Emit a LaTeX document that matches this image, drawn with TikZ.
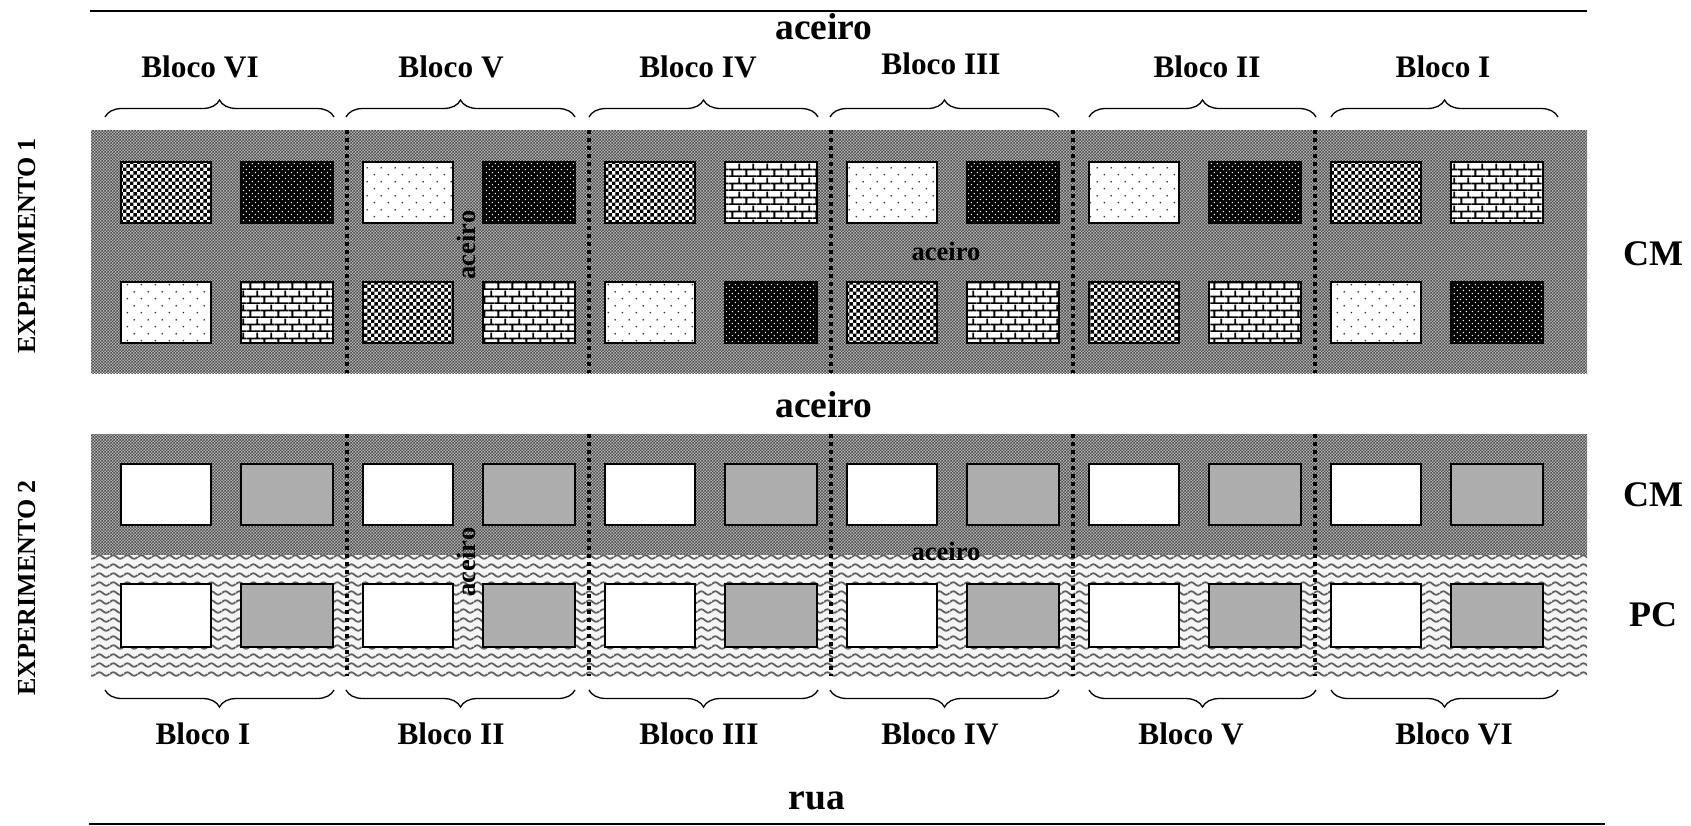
\documentclass[tikz,border=0pt]{standalone}
\usepackage{fontspec}
\setmainfont{Liberation Serif}
\usetikzlibrary{patterns,decorations.pathreplacing}

\newdimen\un
\un=0.74pt
\newdimen\ug
\ug=0.86pt
\pgfdeclarepatternformonly{fundo}{\pgfpoint{0\un}{0\un}}{\pgfpoint{4\un}{4\un}}{\pgfpoint{4\un}{4\un}}{
  \pgfpathrectangle{\pgfpoint{0\un}{0\un}}{\pgfpoint{2\un}{2\un}}
  \pgfpathrectangle{\pgfpoint{2\un}{2\un}}{\pgfpoint{2\un}{2\un}}
  \pgfusepath{fill}}
\pgfdeclarepatternformonly{xadrez}{\pgfpoint{0\ug}{0\ug}}{\pgfpoint{8\ug}{8\ug}}{\pgfpoint{8\ug}{8\ug}}{
  \pgfpathrectangle{\pgfpoint{0\ug}{0\ug}}{\pgfpoint{4\ug}{4\ug}}
  \pgfpathrectangle{\pgfpoint{4\ug}{4\ug}}{\pgfpoint{4\ug}{4\ug}}
  \pgfusepath{fill}}
\pgfdeclarepatternformonly{furos}{\pgfpoint{0\un}{0\un}}{\pgfpoint{8\un}{8\un}}{\pgfpoint{8\un}{8\un}}{
  \pgfpathcircle{\pgfpoint{2\un}{2\un}}{1\un}
  \pgfpathcircle{\pgfpoint{6\un}{6\un}}{1\un}
  \pgfusepath{fill}}
\pgfdeclarepatternformonly{pontos}{\pgfpoint{0\ug}{0\ug}}{\pgfpoint{16\ug}{16\ug}}{\pgfpoint{16\ug}{16\ug}}{
  \pgfpathcircle{\pgfpoint{4\ug}{4\ug}}{1.1\ug}
  \pgfpathcircle{\pgfpoint{12\ug}{12\ug}}{1.1\ug}
  \pgfusepath{fill}}
\pgfdeclarepatternformonly{tijolo}{\pgfpoint{0\ug}{0\ug}}{\pgfpoint{16\ug}{16.4\ug}}{\pgfpoint{16\ug}{16.4\ug}}{
  \pgfsetlinewidth{2.2\ug}
  \pgfpathmoveto{\pgfpoint{0\ug}{1\ug}}\pgfpathlineto{\pgfpoint{16\ug}{1\ug}}
  \pgfpathmoveto{\pgfpoint{0\ug}{9.2\ug}}\pgfpathlineto{\pgfpoint{16\ug}{9.2\ug}}
  \pgfpathmoveto{\pgfpoint{4\ug}{1\ug}}\pgfpathlineto{\pgfpoint{4\ug}{9.2\ug}}
  \pgfpathmoveto{\pgfpoint{12\ug}{9.2\ug}}\pgfpathlineto{\pgfpoint{12\ug}{16.4\ug}}
  \pgfusepath{stroke}}
\pgfdeclarepatternformonly{ondas}{\pgfpoint{0\ug}{0\ug}}{\pgfpoint{16\ug}{10.7\ug}}{\pgfpoint{16\ug}{10.7\ug}}{
  \pgfsetlinewidth{2.2\ug}
  \pgfpathmoveto{\pgfpoint{0\ug}{5\ug}}
  \pgfpathcurveto{\pgfpoint{3\ug}{8\ug}}{\pgfpoint{5\ug}{8\ug}}{\pgfpoint{8\ug}{5\ug}}
  \pgfpathcurveto{\pgfpoint{11\ug}{2\ug}}{\pgfpoint{13\ug}{2\ug}}{\pgfpoint{16\ug}{5\ug}}
  \pgfusepath{stroke}}

\tikzset{
  faixacm/.style={preaction={fill=black!28}, pattern=fundo, pattern color=black!70},
  faixapc/.style={preaction={fill=black!4}, pattern=ondas, pattern color=black!62},
  parcela/.style={draw, line width=1.8pt, minimum width=90.5pt, minimum height=60.5pt, inner sep=0pt, outer sep=0pt, xshift=-0.5pt},
  larga/.style={parcela, minimum width=92.5pt},
  pxadrez/.style={preaction={fill=white}, pattern=xadrez},
  ppreto/.style={preaction={fill=black}, pattern=furos, pattern color=white},
  pponto/.style={preaction={fill=white}, pattern=pontos, pattern color=black!80},
  ptijolo/.style={preaction={fill=white}, pattern=tijolo},
  pbranco/.style={fill=white},
  pcinza/.style={fill=black!32},
  bloco/.style={inner sep=0pt, font=\fontsize{31.3}{34}\selectfont\bfseries},
  grande/.style={inner sep=0pt, font=\fontsize{37.5}{40}\selectfont\bfseries},
  medio/.style={inner sep=0pt, font=\fontsize{36}{40}\selectfont\bfseries},
  pequeno/.style={inner sep=0pt, font=\fontsize{26.5}{30}\selectfont\bfseries},
  experimento/.style={inner sep=0pt, rotate=90, font=\fontsize{26}{30}\selectfont\bfseries},
  chave/.style={line width=1.3pt, decorate, decoration={brace, amplitude=17pt}},
  chaveb/.style={line width=1.3pt, decorate, decoration={brace, amplitude=17pt, mirror}},
  divisa/.style={line width=4pt, dash pattern=on 4pt off 4pt}
}

\begin{document}
\begin{tikzpicture}[x=1pt, y=-1pt]
\useasboundingbox (0,0) rectangle (1691,825);

% faixas
\fill[faixacm] (91,130) rectangle (1587,373);
\fill[faixacm] (91,434) rectangle (1587,555);
\fill[faixapc] (91,555) rectangle (1587,676);

% experimento 1
\node[parcela, pxadrez] (a11) at (166.5,192.5) {};
\node[larga, ppreto] (a12) at (287.5,192.5) {};
\node[parcela, pponto] (a21) at (408.5,192.5) {};
\node[larga, ppreto] (a22) at (529.5,192.5) {};
\node[parcela, pxadrez] (a31) at (650.5,192.5) {};
\node[larga, ptijolo] (a32) at (771.5,192.5) {};
\node[parcela, pponto] (a41) at (892.5,192.5) {};
\node[larga, ppreto] (a42) at (1013.5,192.5) {};
\node[parcela, pponto] (a51) at (1134.5,192.5) {};
\node[larga, ppreto] (a52) at (1255.5,192.5) {};
\node[parcela, pxadrez] (a61) at (1376.5,192.5) {};
\node[larga, ptijolo] (a62) at (1497.5,192.5) {};
\node[parcela, pponto] (b11) at (166.5,312.5) {};
\node[larga, ptijolo] (b12) at (287.5,312.5) {};
\node[parcela, pxadrez] (b21) at (408.5,312.5) {};
\node[larga, ptijolo] (b22) at (529.5,312.5) {};
\node[parcela, pponto] (b31) at (650.5,312.5) {};
\node[larga, ppreto] (b32) at (771.5,312.5) {};
\node[parcela, pxadrez] (b41) at (892.5,312.5) {};
\node[larga, ptijolo] (b42) at (1013.5,312.5) {};
\node[parcela, pxadrez] (b51) at (1134.5,312.5) {};
\node[larga, ptijolo] (b52) at (1255.5,312.5) {};
\node[parcela, pponto] (b61) at (1376.5,312.5) {};
\node[larga, ppreto] (b62) at (1497.5,312.5) {};

% experimento 2
\node[parcela, pbranco] (c11) at (166.5,494.5) {};
\node[larga, pcinza] (c12) at (287.5,494.5) {};
\node[parcela, pbranco] (c21) at (408.5,494.5) {};
\node[larga, pcinza] (c22) at (529.5,494.5) {};
\node[parcela, pbranco] (c31) at (650.5,494.5) {};
\node[larga, pcinza] (c32) at (771.5,494.5) {};
\node[parcela, pbranco] (c41) at (892.5,494.5) {};
\node[larga, pcinza] (c42) at (1013.5,494.5) {};
\node[parcela, pbranco] (c51) at (1134.5,494.5) {};
\node[larga, pcinza] (c52) at (1255.5,494.5) {};
\node[parcela, pbranco] (c61) at (1376.5,494.5) {};
\node[larga, pcinza] (c62) at (1497.5,494.5) {};
\node[parcela, pbranco, minimum height=62.5pt] (d11) at (166.5,615.5) {};
\node[larga, pcinza, minimum height=62.5pt] (d12) at (287.5,615.5) {};
\node[parcela, pbranco, minimum height=62.5pt] (d21) at (408.5,615.5) {};
\node[larga, pcinza, minimum height=62.5pt] (d22) at (529.5,615.5) {};
\node[parcela, pbranco, minimum height=62.5pt] (d31) at (650.5,615.5) {};
\node[larga, pcinza, minimum height=62.5pt] (d32) at (771.5,615.5) {};
\node[parcela, pbranco, minimum height=62.5pt] (d41) at (892.5,615.5) {};
\node[larga, pcinza, minimum height=62.5pt] (d42) at (1013.5,615.5) {};
\node[parcela, pbranco, minimum height=62.5pt] (d51) at (1134.5,615.5) {};
\node[larga, pcinza, minimum height=62.5pt] (d52) at (1255.5,615.5) {};
\node[parcela, pbranco, minimum height=62.5pt] (d61) at (1376.5,615.5) {};
\node[larga, pcinza, minimum height=62.5pt] (d62) at (1497.5,615.5) {};

% linhas de cima e de baixo
\coordinate (topoa) at (90,11);
\coordinate (topob) at (1587,11);
\coordinate (ruaa) at (89,824);
\coordinate (ruab) at (1605,824);
\draw[line width=1.5pt] (topoa) -- (topob);
\draw[line width=1.5pt] (ruaa) -- (ruab);

% divisas entre blocos
\coordinate (s1a) at (347,130); \coordinate (s1b) at (347,373);
\coordinate (s2a) at (589,130); \coordinate (s2b) at (589,373);
\coordinate (s3a) at (831,130); \coordinate (s3b) at (831,373);
\coordinate (s4a) at (1073,130); \coordinate (s4b) at (1073,373);
\coordinate (s5a) at (1315,130); \coordinate (s5b) at (1315,373);
\coordinate (t1a) at (347,434); \coordinate (t1b) at (347,676);
\coordinate (t2a) at (589,434); \coordinate (t2b) at (589,676);
\coordinate (t3a) at (831,434); \coordinate (t3b) at (831,676);
\coordinate (t4a) at (1073,434); \coordinate (t4b) at (1073,676);
\coordinate (t5a) at (1315,434); \coordinate (t5b) at (1315,676);
\draw[divisa] (s1a) -- (s1b);
\draw[divisa] (s2a) -- (s2b);
\draw[divisa] (s3a) -- (s3b);
\draw[divisa] (s4a) -- (s4b);
\draw[divisa] (s5a) -- (s5b);
\draw[divisa] (t1a) -- (t1b);
\draw[divisa] (t2a) -- (t2b);
\draw[divisa] (t3a) -- (t3b);
\draw[divisa] (t4a) -- (t4b);
\draw[divisa] (t5a) -- (t5b);

% chaves
\coordinate (u1a) at (105,117); \coordinate (u1b) at (334,117);
\coordinate (u2a) at (346,117); \coordinate (u2b) at (575,117);
\coordinate (u3a) at (589,117); \coordinate (u3b) at (818,117);
\coordinate (u4a) at (830,117); \coordinate (u4b) at (1059,117);
\coordinate (u5a) at (1089,117); \coordinate (u5b) at (1316,117);
\coordinate (u6a) at (1331,117); \coordinate (u6b) at (1558,117);
\draw[chave] (u1a) -- (u1b);
\draw[chave] (u2a) -- (u2b);
\draw[chave] (u3a) -- (u3b);
\draw[chave] (u4a) -- (u4b);
\draw[chave] (u5a) -- (u5b);
\draw[chave] (u6a) -- (u6b);
\coordinate (v1a) at (105,690); \coordinate (v1b) at (334,690);
\coordinate (v2a) at (346,690); \coordinate (v2b) at (575,690);
\coordinate (v3a) at (589,690); \coordinate (v3b) at (818,690);
\coordinate (v4a) at (830,690); \coordinate (v4b) at (1059,690);
\coordinate (v5a) at (1089,690); \coordinate (v5b) at (1316,690);
\coordinate (v6a) at (1331,690); \coordinate (v6b) at (1558,690);
\draw[chaveb] (v1a) -- (v1b);
\draw[chaveb] (v2a) -- (v2b);
\draw[chaveb] (v3a) -- (v3b);
\draw[chaveb] (v4a) -- (v4b);
\draw[chaveb] (v5a) -- (v5b);
\draw[chaveb] (v6a) -- (v6b);

% textos
\node[grande] (aceirotopo) at (824,27) {aceiro};
\node[grande] (aceiromeio) at (824,405) {aceiro};
\node[grande] (rua) at (817,801) {rua};
\node[bloco] (cima6) at (200,67) {Bloco VI};
\node[bloco] (cima5) at (451,67) {Bloco V};
\node[bloco] (cima4) at (698,67) {Bloco IV};
\node[bloco] (cima3) at (941,64) {Bloco III};
\node[bloco] (cima2) at (1207,67) {Bloco II};
\node[bloco] (cima1) at (1443,67) {Bloco I};
\node[bloco] (baixo1) at (203,734) {Bloco I};
\node[bloco] (baixo2) at (451,734) {Bloco II};
\node[bloco] (baixo3) at (699,734) {Bloco III};
\node[bloco] (baixo4) at (940,734) {Bloco IV};
\node[bloco] (baixo5) at (1191,734) {Bloco V};
\node[bloco] (baixo6) at (1454,734) {Bloco VI};
\node[medio] (cm1) at (1653,254) {CM};
\node[medio] (cm2) at (1653,495) {CM};
\node[medio] (pc) at (1653,615) {PC};
\node[experimento] (exp1) at (27,246) {EXPERIMENTO 1};
\node[experimento] (exp2) at (27,588) {EXPERIMENTO 2};
\node[pequeno] (aceiroh1) at (946,251) {aceiro};
\node[pequeno] (aceiroh2) at (946,551) {aceiro};
\node[pequeno, rotate=90] (aceirov1) at (466,245) {aceiro};
\node[pequeno, rotate=90] (aceirov2) at (466,562) {aceiro};
\end{tikzpicture}
\end{document}
